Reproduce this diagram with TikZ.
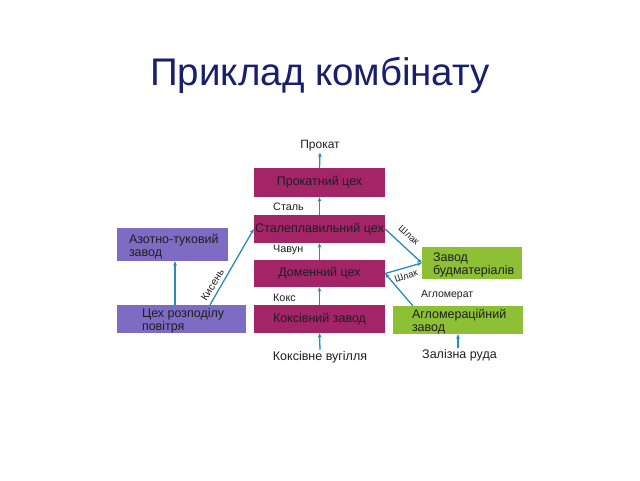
\documentclass[tikz,border=0pt]{standalone}
\usepackage{fontspec}
\setmainfont{Liberation Sans}
\usetikzlibrary{arrows.meta,calc}
\definecolor{mag}{RGB}{163,36,103}
\definecolor{pur}{RGB}{124,108,196}
\definecolor{grn}{RGB}{141,192,52}
\definecolor{ln}{RGB}{38,140,190}
\definecolor{ttl}{RGB}{24,32,110}
\definecolor{txt}{RGB}{30,30,35}
\tikzset{
  boxtxt/.style={inner sep=0pt, text=txt, font=\fontsize{12.5}{13}\selectfont, align=left},
  magbox/.style={boxtxt, fill=mag, minimum width=131pt, align=center},
  purbox/.style={fill=pur, inner sep=0pt},
  grnbox/.style={fill=grn, inner sep=0pt},
  lbl/.style={inner sep=1pt, text=txt, font=\fontsize{10.8}{11}\selectfont},
  biglbl/.style={inner sep=1pt, text=txt, font=\fontsize{12.5}{13}\selectfont},
  rotlbl/.style={inner sep=0pt, text=txt, font=\fontsize{9.5}{10}\selectfont},
  arr/.style={draw=ln, line width=1.3pt, -{Stealth[length=4.5pt,width=3.8pt]}}
}
\begin{document}
\begin{tikzpicture}[x=1pt,y=-1pt]
\useasboundingbox (0,0) rectangle (640,480);
\node[text=ttl, font=\fontsize{38.5}{42}\selectfont, inner sep=0pt, anchor=base] (title) at (320,85) {Приклад комбінату};

\node[magbox, minimum height=29pt] (pr) at (319.5,182.5) {Прокатний цех};
\node[magbox, minimum height=28pt] (st) at (319.5,229) {Сталеплавильний цех};
\node[magbox, minimum height=27pt] (dm) at (319.5,273.5) {Доменний цех};
\node[magbox, minimum height=28pt] (ks) at (319.5,319) {Коксівний завод};

\node[purbox, minimum width=111pt, minimum height=33pt] (az) at (172.5,244.5) {};
\node[boxtxt, anchor=west] (azt) at ([xshift=12pt,yshift=-2pt]az.west) {Азотно-туковий\\завод};
\node[purbox, minimum width=129pt, minimum height=28pt] (cr) at (181.5,319) {};
\node[boxtxt, anchor=west] (crt) at ([xshift=25pt,yshift=-1.5pt]cr.west) {Цех розподілу\\повітря};

\node[grnbox, minimum width=100pt, minimum height=32pt] (bm) at (472,263) {};
\node[boxtxt, anchor=west] (bmt) at ([xshift=11pt,yshift=-1.5pt]bm.west) {Завод\\будматеріалів};
\node[grnbox, minimum width=130pt, minimum height=28pt] (ag) at (458,320) {};
\node[boxtxt, anchor=west] (agt) at ([xshift=19pt,yshift=-1.5pt]ag.west) {Агломераційний\\завод};

\node[biglbl, font=\fontsize{12}{13}\selectfont] (prokat) at (320,146) {Прокат};
\node[lbl, anchor=west] (stal) at (272,207) {Сталь};
\node[lbl, anchor=west] (chav) at (272,250) {Чавун};
\node[lbl, anchor=west] (koks) at (272,298) {Кокс};
\node[lbl, anchor=west, font=\fontsize{10.5}{11}\selectfont] (aglm) at (420,295) {Агломерат};
\node[biglbl] (vug) at (320,357) {Коксівне вугілля};
\node[biglbl] (ruda) at (459.5,355) {Залізна руда};
\node[rotlbl, rotate=58, font=\fontsize{10.5}{11}\selectfont] (kys) at (212.5,285) {Кисень};
\node[rotlbl, rotate=-41] (shl1) at (409,235) {Шлак};
\node[rotlbl, rotate=19] (shl2) at (406,276) {Шлак};

\draw[arr] (pr.north) -- (prokat.south);
\draw[arr] (st.north) -- (pr.south);
\draw[arr] (dm.north) -- (st.south);
\draw[arr] (ks.north) -- (dm.south);
\draw[arr] (vug.north) -- (ks.south);
\draw[arr] (ruda.north -| ag.south) -- (ag.south);
\draw[arr] ([xshift=-6.5pt]cr.north) -- ([xshift=2.5pt]az.south);
\draw[arr] ([xshift=28.5pt]cr.north) -- (st.west);
\draw[arr] (st.east) -- (bm.west);
\draw[arr] (dm.east) -- (bm.west);
\draw[arr] ([xshift=20pt]ag.north west) -- (dm.east);
\end{tikzpicture}
\end{document}
